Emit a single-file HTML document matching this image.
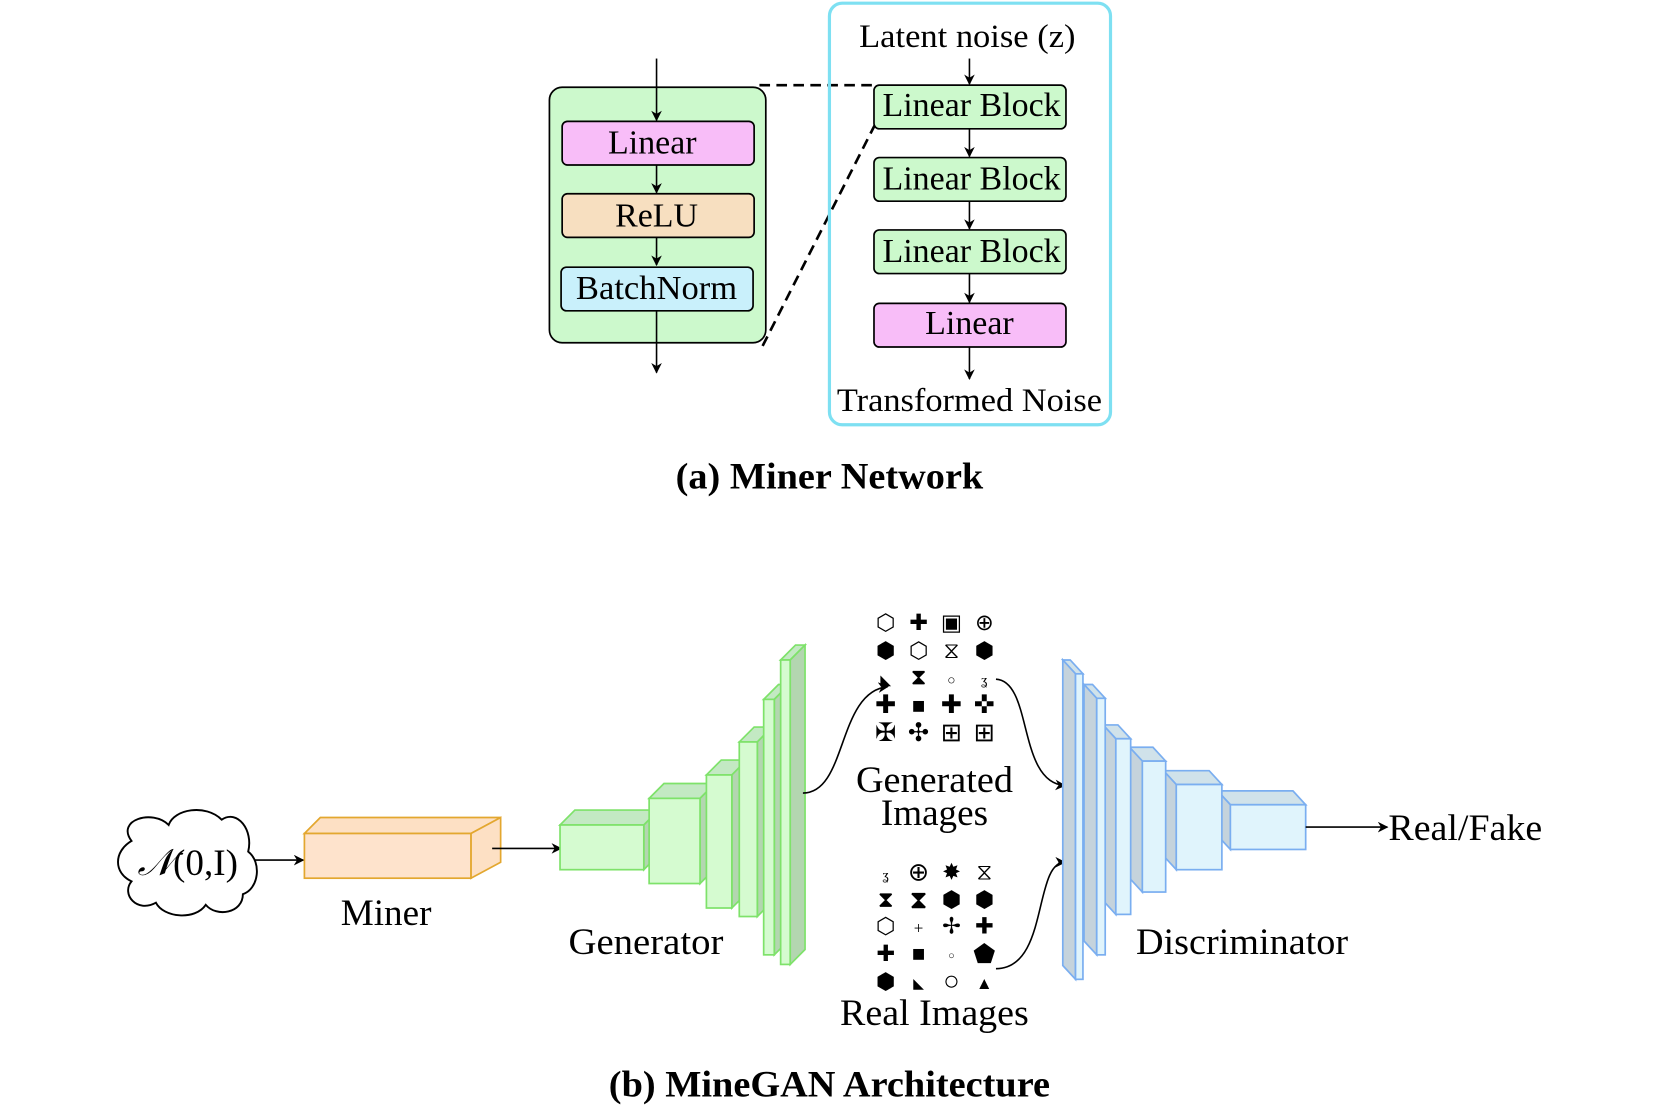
<!DOCTYPE html>
<html><head><meta charset="utf-8"><style>
html,body{margin:0;padding:0;background:#fff;}
svg{display:block;}
text{font-family:"Liberation Serif",serif;fill:#000;}
.g{font-family:"DejaVu Sans",sans-serif;font-size:21px;text-anchor:middle;}
</style></head><body>
<svg width="1661" height="1106" viewBox="1 0 1566 1039" preserveAspectRatio="none" xmlns="http://www.w3.org/2000/svg">
<defs>
<marker id="ar" markerWidth="10" markerHeight="10" refX="9" refY="5" orient="auto" markerUnits="userSpaceOnUse">
<path d="M0,0 L10,5 L0,10 L3,5 Z" fill="#000"/></marker>
</defs>
<!-- (a) -->
<rect x="519" y="82" width="204" height="240" rx="12" fill="#ccf9cc" stroke="#000" stroke-width="1.6"/>
<line x1="620" y1="55" x2="620" y2="113" stroke="#000" stroke-width="1.5" marker-end="url(#ar)"/>
<rect x="531" y="114" width="181" height="41" rx="5" fill="#f8bdf8" stroke="#000" stroke-width="1.6"/>
<text x="616" y="144" font-size="32" text-anchor="middle">Linear</text>
<line x1="620" y1="155" x2="620" y2="181" stroke="#000" stroke-width="1.5" marker-end="url(#ar)"/>
<rect x="531" y="182" width="181" height="41" rx="5" fill="#f7dfc0" stroke="#000" stroke-width="1.6"/>
<text x="620" y="213" font-size="32" text-anchor="middle">ReLU</text>
<line x1="620" y1="223" x2="620" y2="249" stroke="#000" stroke-width="1.5" marker-end="url(#ar)"/>
<rect x="530" y="251" width="181" height="41" rx="5" fill="#c9f0fb" stroke="#000" stroke-width="1.6"/>
<text x="620" y="281" font-size="32" text-anchor="middle" textLength="152" lengthAdjust="spacingAndGlyphs">BatchNorm</text>
<line x1="620" y1="292" x2="620" y2="350" stroke="#000" stroke-width="1.5" marker-end="url(#ar)"/>
<line x1="717" y1="80" x2="826" y2="80" stroke="#000" stroke-width="2.5" stroke-dasharray="10,6"/>
<line x1="720" y1="325" x2="826" y2="117" stroke="#000" stroke-width="2.5" stroke-dasharray="10,6"/>
<rect x="783" y="3" width="265" height="396" rx="12" fill="none" stroke="#7ee0f2" stroke-width="3"/>
<text x="913" y="44" font-size="31" text-anchor="middle" textLength="204" lengthAdjust="spacingAndGlyphs">Latent noise (z)</text>
<line x1="915" y1="55" x2="915" y2="79" stroke="#000" stroke-width="1.5" marker-end="url(#ar)"/>
<rect x="825" y="80" width="181" height="41" rx="5" fill="#ccf9cc" stroke="#000" stroke-width="1.6"/>
<text x="917" y="109" font-size="32" text-anchor="middle" textLength="168" lengthAdjust="spacingAndGlyphs">Linear Block</text>
<line x1="915" y1="121" x2="915" y2="147" stroke="#000" stroke-width="1.5" marker-end="url(#ar)"/>
<rect x="825" y="148" width="181" height="41" rx="5" fill="#ccf9cc" stroke="#000" stroke-width="1.6"/>
<text x="917" y="178" font-size="32" text-anchor="middle" textLength="168" lengthAdjust="spacingAndGlyphs">Linear Block</text>
<line x1="915" y1="189" x2="915" y2="215" stroke="#000" stroke-width="1.5" marker-end="url(#ar)"/>
<rect x="825" y="216" width="181" height="41" rx="5" fill="#ccf9cc" stroke="#000" stroke-width="1.6"/>
<text x="917" y="246" font-size="32" text-anchor="middle" textLength="168" lengthAdjust="spacingAndGlyphs">Linear Block</text>
<line x1="915" y1="257" x2="915" y2="284" stroke="#000" stroke-width="1.5" marker-end="url(#ar)"/>
<rect x="825" y="285" width="181" height="41" rx="5" fill="#f8bdf8" stroke="#000" stroke-width="1.6"/>
<text x="915" y="314" font-size="32" text-anchor="middle">Linear</text>
<line x1="915" y1="326" x2="915" y2="356" stroke="#000" stroke-width="1.5" marker-end="url(#ar)"/>
<text x="915" y="386" font-size="31" text-anchor="middle" textLength="250" lengthAdjust="spacingAndGlyphs">Transformed Noise</text>
<text x="783" y="459" font-size="35" font-weight="bold" text-anchor="middle" textLength="290" lengthAdjust="spacingAndGlyphs">(a) Miner Network</text>

<!-- (b) cloud -->
<path d="M125,790 C110,770 145,760 160,775 C165,760 195,755 210,770 C225,760 240,780 235,800 C248,810 245,835 230,840 C230,858 205,862 195,850 C185,865 155,862 148,848 C130,858 115,840 125,828 C108,820 108,800 125,790 Z" fill="#fff" stroke="#000" stroke-width="1.8"/>
<text x="178" y="822" font-size="35" text-anchor="middle" font-style="italic">𝒩<tspan font-style="normal">(0,I)</tspan></text>
<line x1="241" y1="808" x2="287" y2="808" stroke="#000" stroke-width="1.5" marker-end="url(#ar)"/>
<!-- miner box -->
<polygon points="288,783 303,768 473,768 445,783" fill="#fde0c4" stroke="#e3a72f" stroke-width="1.6"/>
<polygon points="445,783 473,768 473,810 445,825" fill="#fde0c4" stroke="#e3a72f" stroke-width="1.6"/>
<rect x="288" y="783" width="157" height="42" fill="#fee3cc" stroke="#e3a72f" stroke-width="1.6"/>
<text x="365" y="869" font-size="35" text-anchor="middle">Miner</text>
<line x1="465" y1="797" x2="530" y2="797" stroke="#000" stroke-width="1.5" marker-end="url(#ar)"/>
<!-- generator -->
<g stroke="#7ee26a" stroke-width="1.6">
<polygon points="529,775 543,761 622,761 608,775" fill="#c3e9c3"/><polygon points="608,775 622,761 622,803 608,817" fill="#b3d6b0"/><rect x="529" y="775" width="79" height="42" fill="#d5fbd0"/>
<polygon points="613,750 627,736 675,736 661,750" fill="#c3e9c3"/><polygon points="661,750 675,736 675,816 661,830" fill="#b3d6b0"/><rect x="613" y="750" width="48" height="80" fill="#d5fbd0"/>
<polygon points="667,728 681,714 705,714 691,728" fill="#c3e9c3"/><polygon points="691,728 705,714 705,839 691,853" fill="#b3d6b0"/><rect x="667" y="728" width="24" height="125" fill="#d5fbd0"/>
<polygon points="698,697 712,683 729,683 715,697" fill="#c3e9c3"/><polygon points="715,697 729,683 729,847 715,861" fill="#b3d6b0"/><rect x="698" y="697" width="17" height="164" fill="#d5fbd0"/>
<polygon points="721,657 735,643 745,643 731,657" fill="#c3e9c3"/><polygon points="731,657 745,643 745,883 731,897" fill="#b3d6b0"/><rect x="721" y="657" width="10" height="240" fill="#d5fbd0"/>
<polygon points="737,620 751,606 760,606 746,620" fill="#c3e9c3"/><polygon points="746,620 760,606 760,892 746,906" fill="#b3d6b0"/><rect x="737" y="620" width="9" height="286" fill="#d5fbd0"/>
</g>
<text x="610" y="896" font-size="35" text-anchor="middle" textLength="146" lengthAdjust="spacingAndGlyphs">Generator</text>
<!-- generated images -->
<g class="g">
<text x="836" y="592">⬡</text><text x="867" y="592">✚</text><text x="898" y="592">▣</text><text x="929" y="592">⊕</text>
<text x="836" y="618">⬢</text><text x="867" y="618">⬡</text><text x="898" y="618">⧖</text><text x="929" y="618" fill="#555">⬢</text>
<text x="836" y="643" font-size="13">◣</text><text x="867" y="643">⧗</text><text x="898" y="643" font-size="13">○</text><text x="929" y="643" font-size="13">ʓ</text>
<text x="836" y="670" font-size="24">✚</text><text x="867" y="670">■</text><text x="898" y="670" font-size="24">✚</text><text x="929" y="670" font-size="24">✜</text>
<text x="836" y="696" font-size="24">✠</text><text x="867" y="696" font-size="24">✣</text><text x="898" y="696" font-size="24">⊞</text><text x="929" y="696" font-size="24">⊞</text>
</g>
<path d="M758,745 C800,745 790,650 838,645" fill="none" stroke="#000" stroke-width="1.5" marker-end="url(#ar)"/>
<path d="M940,638 C975,640 960,735 1005,738" fill="none" stroke="#000" stroke-width="1.5" marker-end="url(#ar)"/>
<text x="882" y="744" font-size="35" text-anchor="middle" textLength="148" lengthAdjust="spacingAndGlyphs">Generated</text>
<text x="882" y="775" font-size="35" text-anchor="middle">Images</text>
<!-- real images -->
<g class="g">
<text x="836" y="826" font-size="13">ʓ</text><text x="867" y="827" font-size="24">⊕</text><text x="898" y="826">✸</text><text x="929" y="826">⧖</text>
<text x="836" y="852">⧗</text><text x="867" y="853" font-size="24">⧗</text><text x="898" y="852">⬢</text><text x="929" y="852">⬢</text>
<text x="836" y="877">⬡</text><text x="867" y="877" font-size="16">+</text><text x="898" y="877">✢</text><text x="929" y="877">✚</text>
<text x="836" y="903">✚</text><text x="867" y="903">■</text><text x="898" y="901" font-size="10">○</text><text x="929" y="904" font-size="24">⬟</text>
<text x="836" y="929">⬢</text><text x="867" y="928" font-size="13">◣</text><text x="898" y="930" font-size="26">○</text><text x="929" y="929" font-size="16">▲</text>
</g>
<path d="M940,910 C990,910 975,810 1005,810" fill="none" stroke="#000" stroke-width="1.5" marker-end="url(#ar)"/>
<text x="882" y="963" font-size="35" text-anchor="middle" textLength="178" lengthAdjust="spacingAndGlyphs">Real Images</text>
<!-- discriminator -->
<g stroke="#7aaef0" stroke-width="1.6">
<polygon points="1149,743 1161,756 1232,756 1220,743" fill="#d0e2ea"/><polygon points="1149,743 1161,756 1161,798 1149,785" fill="#c5d3dc"/><rect x="1161" y="756" width="71" height="42" fill="#e0f4fc"/>
<polygon points="1098,724 1110,737 1153,737 1141,724" fill="#d0e2ea"/><polygon points="1098,724 1110,737 1110,817 1098,804" fill="#c5d3dc"/><rect x="1110" y="737" width="43" height="80" fill="#e0f4fc"/>
<polygon points="1066,702 1078,715 1100,715 1088,702" fill="#d0e2ea"/><polygon points="1066,702 1078,715 1078,838 1066,825" fill="#c5d3dc"/><rect x="1078" y="715" width="22" height="123" fill="#e0f4fc"/>
<polygon points="1041,681 1053,694 1067,694 1055,681" fill="#d0e2ea"/><polygon points="1041,681 1053,694 1053,859 1041,846" fill="#c5d3dc"/><rect x="1053" y="694" width="14" height="165" fill="#e0f4fc"/>
<polygon points="1023,643 1035,656 1043,656 1031,643" fill="#d0e2ea"/><polygon points="1023,643 1035,656 1035,897 1023,884" fill="#c5d3dc"/><rect x="1035" y="656" width="8" height="241" fill="#e0f4fc"/>
<polygon points="1003,620 1015,633 1022,633 1010,620" fill="#d0e2ea"/><polygon points="1003,620 1015,633 1015,920 1003,907" fill="#c5d3dc"/><rect x="1015" y="633" width="7" height="287" fill="#e0f4fc"/>
</g>
<text x="1172" y="896" font-size="35" text-anchor="middle" textLength="200" lengthAdjust="spacingAndGlyphs">Discriminator</text>
<line x1="1232" y1="777" x2="1309" y2="777" stroke="#000" stroke-width="1.5" marker-end="url(#ar)"/>
<text x="1310" y="789" font-size="35" textLength="145" lengthAdjust="spacingAndGlyphs">Real/Fake</text>
<text x="783" y="1030" font-size="35" font-weight="bold" text-anchor="middle" textLength="416" lengthAdjust="spacingAndGlyphs">(b) MineGAN Architecture</text>
</svg>
</body></html>
